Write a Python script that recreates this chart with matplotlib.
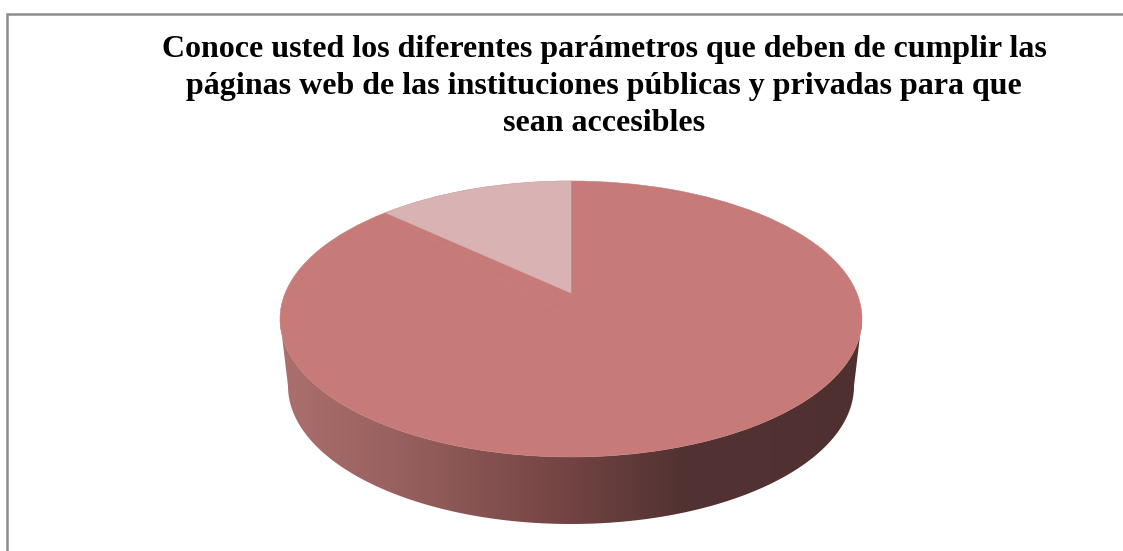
import matplotlib
matplotlib.use("Agg")
import matplotlib.pyplot as plt
import numpy as np
from matplotlib.colors import LinearSegmentedColormap
from matplotlib.lines import Line2D
from matplotlib.patches import Polygon

# data
title_lines = ["Conoce usted los diferentes parámetros que deben de cumplir las",
               "páginas web de las instituciones públicas y privadas para que",
               "sean accesibles"]
values = [11, 89]  # small slice first

W, H = 1123, 551
cx, cy = 571, 319    # centre of the top ellipse, pixels
rx, ry = 291, 138    # radii of the top ellipse, pixels
depth = 67 / ry      # pie thickness in unit coords
bottom_rx = 283 / rx  # bottom rim is a bit narrower (perspective)
apex_y = 26 / ry     # slice apex sits above the ellipse centre

top_col = "#c67b79"
slice_col = "#d9b2b3"

fig = plt.figure(figsize=(W / 100, H / 100), dpi=100, facecolor="white")
ax = fig.add_axes([0, 0, 1, 1])

# top face, edge in same colour so no seam shows between the wedges
ax.pie(values, colors=[top_col, top_col], startangle=90, radius=1, center=(0, 0),
       wedgeprops=dict(linewidth=0.4, edgecolor=top_col, zorder=3))
ax.set_aspect("auto")
ax.axis("off")

# small slice, apex moved up like the 3d view does
theta = np.radians(np.linspace(90, 90 + 360 * values[0] / sum(values), 60))
pts = np.column_stack((np.cos(theta), np.sin(theta)))
pts = np.vstack((pts, [0, apex_y]))
ax.add_patch(Polygon(pts, closed=True, facecolor=slice_col, edgecolor=slice_col, lw=0.4, zorder=4))

# side wall with gradient
t = np.radians(np.linspace(180, 360, 200))
upper = np.column_stack((np.cos(t), np.sin(t)))
lower = np.column_stack((bottom_rx * np.cos(t), np.sin(t) - depth))
wall = Polygon(np.vstack((upper, lower[::-1])), closed=True, facecolor="none",
               edgecolor="none", transform=ax.transData)
ax.add_patch(wall)

stops = [(0.0, "#ac6f6d"), (0.2, "#98615f"), (0.5, "#724342"), (0.69, "#533233"), (1.0, "#4f3031")]
cmap = LinearSegmentedColormap.from_list("wall", stops)
grad = np.linspace(0, 1, 256).reshape(1, -1)
im = ax.imshow(grad, cmap=cmap, extent=(-1, 1, -1 - depth, 0), aspect="auto", zorder=2)
im.set_clip_path(wall)
ax.set_xlim(-cx / rx, (W - cx) / rx)
ax.set_ylim((cy - H) / ry, cy / ry)

# chart frame, only top and left show
fig.add_artist(Line2D([7 / W, 7 / W, 1], [0, 1 - 13.5 / H, 1 - 13.5 / H],
                      color="#8c8c8c", lw=1.8, solid_joinstyle="miter"))

# title
for line, y in zip(title_lines, [57, 94, 131]):
    fig.text(604 / W, 1 - y / H, line, ha="center", va="baseline", color="black",
             fontsize=23, fontweight="bold", family="Liberation Serif")

fig.savefig("out.png", dpi=100)
